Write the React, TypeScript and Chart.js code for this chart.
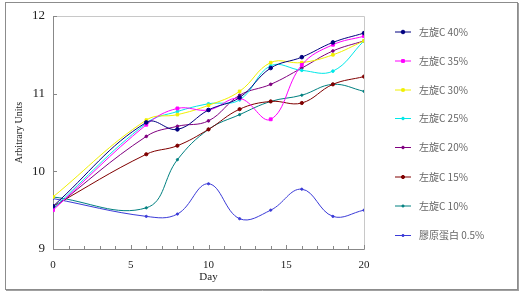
import { useEffect, useRef } from 'react';
import { Chart, registerables } from 'chart.js';
import { drawPoint } from 'chart.js/helpers';

Chart.register(...registerables);

const days = [0, 6, 8, 10, 12, 14, 16, 18, 20];
const vc40 = [9.55, 10.63, 10.54, 10.79, 10.95, 11.33, 11.47, 11.66, 11.78];
const vc35 = [9.5, 10.6, 10.81, 10.79, 10.94, 10.67, 11.37, 11.63, 11.74];
const vc30 = [9.67, 10.66, 10.73, 10.85, 11.03, 11.4, 11.4, 11.5, 11.68];
const vc25 = [9.52, 10.62, 10.77, 10.87, 10.92, 11.36, 11.3, 11.29, 11.68];
const vc20 = [9.52, 10.45, 10.58, 10.65, 10.98, 11.12, 11.33, 11.55, 11.68];
const vc15 = [9.55, 10.22, 10.33, 10.54, 10.8, 10.9, 10.88, 11.12, 11.22];
const vc10 = [9.67, 9.53, 10.15, 10.54, 10.73, 10.9, 10.98, 11.12, 11.03];
const collagen = [9.65, 9.42, 9.45, 9.84, 9.39, 9.5, 9.77, 9.42, 9.5];

const seriesLabels = ['左旋C 40%', '左旋C 35%', '左旋C 30%', '左旋C 25%', '左旋C 20%', '左旋C 15%', '左旋C 10%', '膠原蛋白 0.5%'];
const seriesValues = [vc40, vc35, vc30, vc25, vc20, vc15, vc10, collagen];
const seriesColors = ['#000080', '#FF00FF', '#F0F000', '#00E8E8', '#800080', '#800000', '#008080', '#3B3BD8'];
const seriesPointStyles = ['circle', 'rect', 'rect', 'circle', 'circle', 'circle', 'circle', 'circle'];
const seriesPointRadius = [1.8, 2.0, 1.8, 1.3, 1.3, 1.6, 1.1, 1.1];

const xTickMin = 0;
const xTickMax = 20;
const yTickMin = 9;
const yTickMax = 12;

const SERIF = '"Liberation Serif", "DejaVu Serif", serif';
const CJK = '"Noto Sans CJK TC", "Noto Sans CJK SC", sans-serif';

const framePlugin = {
  id: 'frame',
  beforeDraw(chart: any) {
    const ctx = chart.ctx;
    ctx.save();
    ctx.fillStyle = '#ffffff';
    ctx.fillRect(0, 0, chart.width, chart.height);
    ctx.restore();
  },
  afterDraw(chart: any) {
    const ctx = chart.ctx;
    const a = chart.chartArea;
    const xs = chart.scales.x;
    const ys = chart.scales.y;
    ctx.save();
    // plot area top/right light border
    ctx.strokeStyle = '#c8c8c8';
    ctx.lineWidth = 1;
    ctx.beginPath();
    ctx.moveTo(Math.round(a.left) + 0.5, Math.round(a.top) + 0.5);
    ctx.lineTo(Math.round(a.right) + 0.5, Math.round(a.top) + 0.5);
    ctx.lineTo(Math.round(a.right) + 0.5, Math.round(a.bottom) + 0.5);
    ctx.stroke();
    // inward tick marks
    ctx.strokeStyle = '#888';
    ctx.beginPath();
    for (let d = xTickMin + 1; d <= xTickMax; d++) {
      const px = Math.round(xs.getPixelForValue(d)) + 0.5;
      const len = d % 5 === 0 ? 4 : 3;
      ctx.moveTo(px, a.bottom);
      ctx.lineTo(px, a.bottom - len);
    }
    for (let v = yTickMin + 1; v <= yTickMax; v++) {
      const py = Math.round(ys.getPixelForValue(v)) + 0.5;
      ctx.moveTo(a.left, py);
      ctx.lineTo(a.left + 4, py);
    }
    ctx.stroke();
    // outer frame
    ctx.strokeStyle = '#8c8c8c';
    ctx.strokeRect(5.5, 2.5, 512, 287);
    ctx.strokeStyle = '#a0a0a0';
    ctx.beginPath();
    ctx.moveTo(518.5, 3);
    ctx.lineTo(518.5, 291);
    ctx.moveTo(6, 290.5);
    ctx.lineTo(519, 290.5);
    ctx.stroke();

    // legend
    const lx0 = 395;
    const lx1 = 411;
    const tx = 419;
    const rowY = [32, 61, 90, 118.5, 147.5, 177, 206, 235.5];
    ctx.font = '10px ' + CJK;
    ctx.textBaseline = 'middle';
    ctx.textAlign = 'left';
    seriesLabels.forEach((label, i) => {
      const y = rowY[i];
      ctx.strokeStyle = seriesColors[i];
      ctx.lineWidth = 1;
      ctx.beginPath();
      ctx.moveTo(lx0, y);
      ctx.lineTo(lx1, y);
      ctx.stroke();
      ctx.fillStyle = seriesColors[i];
      drawPoint(ctx, { pointStyle: seriesPointStyles[i], radius: seriesPointRadius[i], rotation: 0, borderWidth: 1 }, (lx0 + lx1) / 2, y);
      ctx.fillStyle = '#666666';
      ctx.fillText(label, tx, y);
    });
    ctx.restore();
  },
};

export default function App() {
  const ref = useRef<HTMLCanvasElement | null>(null);
  useEffect(() => {
    if (!ref.current) return;
    const chart = new Chart(ref.current, {
      type: 'line',
      data: {
        datasets: seriesLabels.map((label, i) => ({
          label,
          data: days.map((d, j) => ({ x: d, y: seriesValues[i][j] })),
          borderColor: seriesColors[i],
          backgroundColor: seriesColors[i],
          borderWidth: 1,
          pointStyle: seriesPointStyles[i] as any,
          pointRadius: seriesPointRadius[i],
          pointBorderWidth: 1,
          tension: 0.4,
          fill: false,
        })),
      },
      options: {
        animation: false,
        responsive: false,
        devicePixelRatio: 1,
        layout: { padding: { top: 16, right: 160, left: 0, bottom: 0 } },
        plugins: {
          legend: { display: false },
          tooltip: { enabled: false },
        },
        scales: {
          x: {
            type: 'linear',
            min: xTickMin,
            max: xTickMax,
            afterFit: (s: any) => { s.height = 44; },
            ticks: {
              stepSize: 1,
              autoSkip: false,
              maxRotation: 0,
              padding: 10,
              color: '#222',
              font: { family: SERIF, size: 11 },
              callback: (v: any) => (Number(v) % 5 === 0 ? String(v) : ''),
            },
            grid: { drawOnChartArea: false, drawTicks: false },
            border: { color: '#888', width: 1 },
            title: { display: true, text: 'Day', color: '#222', font: { family: SERIF, size: 11 }, padding: { top: 0, bottom: 9 } },
          },
          y: {
            type: 'linear',
            min: yTickMin,
            max: yTickMax,
            afterFit: (s: any) => { s.width = 53; },
            ticks: {
              stepSize: 1,
              padding: 8,
              color: '#222',
              font: { family: SERIF, size: 13 },
            },
            grid: { drawOnChartArea: false, drawTicks: false },
            border: { color: '#888', width: 1 },
            title: { display: true, text: 'Arbitrary Units', color: '#222', font: { family: SERIF, size: 10 }, padding: { top: 13, bottom: 0 } },
          },
        },
      },
      plugins: [framePlugin],
    });
    return () => chart.destroy();
  }, []);
  return (
    <div style={{ position: 'absolute', left: 0, top: 0, width: 524, height: 293 }}>
      <canvas ref={ref} width={524} height={293} style={{ width: 524, height: 293, display: 'block' }} />
    </div>
  );
}
